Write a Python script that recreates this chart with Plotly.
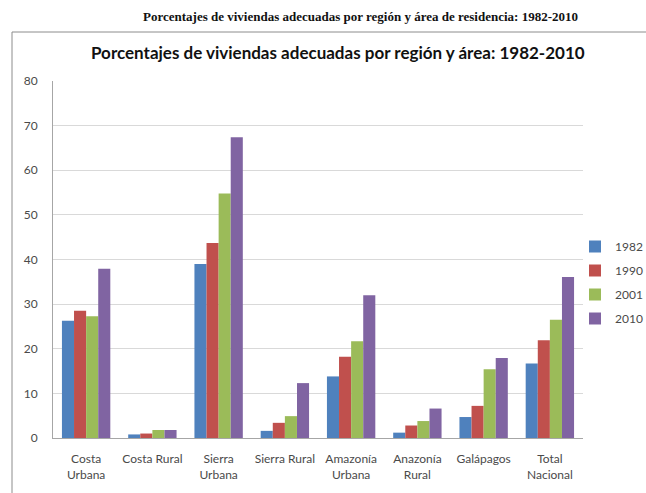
import plotly.graph_objects as go

categories = ["Costa<br>Urbana", "Costa Rural", "Sierra<br>Urbana", "Sierra Rural",
              "Amazonía<br>Urbana", "Anazonía<br>Rural", "Galápagos", "Total<br>Nacional"]
v1982 = [26.3, 0.8, 39.0, 1.6, 13.8, 1.2, 4.7, 16.7]
v1990 = [28.5, 1.0, 43.7, 3.4, 18.2, 2.8, 7.2, 21.9]
v2001 = [27.3, 1.8, 54.8, 4.9, 21.7, 3.8, 15.4, 26.5]
v2010 = [37.9, 1.8, 67.4, 12.3, 32.0, 6.6, 17.9, 36.1]
years = ["1982", "1990", "2001", "2010"]
colors = ["#4F81BD", "#C0504D", "#9BBB59", "#8064A2"]
series = [v1982, v1990, v2001, v2010]

W, H = 646, 493
L, R, T, B = 53, 63, 81, 55
pw, ph = W - L - R, H - T - B

def px(x):
    return (x - L) / pw

def py(y):
    return (H - B - y) / ph

fig = go.Figure()
for name, vals, c in zip(years, series, colors):
    fig.add_trace(go.Bar(x=categories, y=vals, name=name, marker_color=c,
                         marker_line_width=0, legendgroup=name))

font_main = "Lato, 'DejaVu Sans', sans-serif"
txt = "#4A4A4A"
fig.update_layout(
    width=W, height=H,
    margin=dict(l=L, r=R, t=T, b=B, autoexpand=False),
    paper_bgcolor="white", plot_bgcolor="white",
    barmode="group", bargap=0.27, bargroupgap=0,
    font=dict(family=font_main, size=12, color=txt),
    showlegend=True,
    legend=dict(x=px(575), y=py(232), xanchor="left", yanchor="top",
                font=dict(size=12, color=txt), tracegroupgap=5,
                itemwidth=30, bgcolor="rgba(0,0,0,0)"),
    xaxis=dict(showgrid=False, showline=True, linecolor="#A6A6A6", linewidth=1,
               ticks="", tickfont=dict(size=12, color=txt),
               ticklabelstandoff=10),
    yaxis=dict(range=[0, 80], dtick=10, showgrid=True, gridcolor="#D9D9D9",
               gridwidth=1, showline=True, linecolor="#A6A6A6", linewidth=1,
               ticks="", zeroline=False, tickfont=dict(size=12, color=txt),
               ticklabelstandoff=12),
    shapes=[dict(type="rect", xref="paper", yref="paper",
                 x0=px(12), x1=px(660), y0=py(510), y1=py(32),
                 line=dict(color="#8C8C8C", width=1), fillcolor="rgba(0,0,0,0)",
                 layer="below")],
    annotations=[
        dict(text="<b>Porcentajes de viviendas adecuadas por región y área de residencia: 1982-2010</b>",
             xref="paper", yref="paper", x=px(360), y=py(17), xanchor="center", yanchor="middle",
             showarrow=False, font=dict(family="'Liberation Serif', 'Times New Roman', serif",
                                         size=13, color="#111111")),
        dict(text="<b>Porcentajes de viviendas adecuadas por región y área: 1982-2010</b>",
             xref="paper", yref="paper", x=px(338), y=py(52), xanchor="center", yanchor="middle",
             showarrow=False, font=dict(family=font_main, size=17, color="#111111")),
    ],
)

fig.write_html("out.html")
